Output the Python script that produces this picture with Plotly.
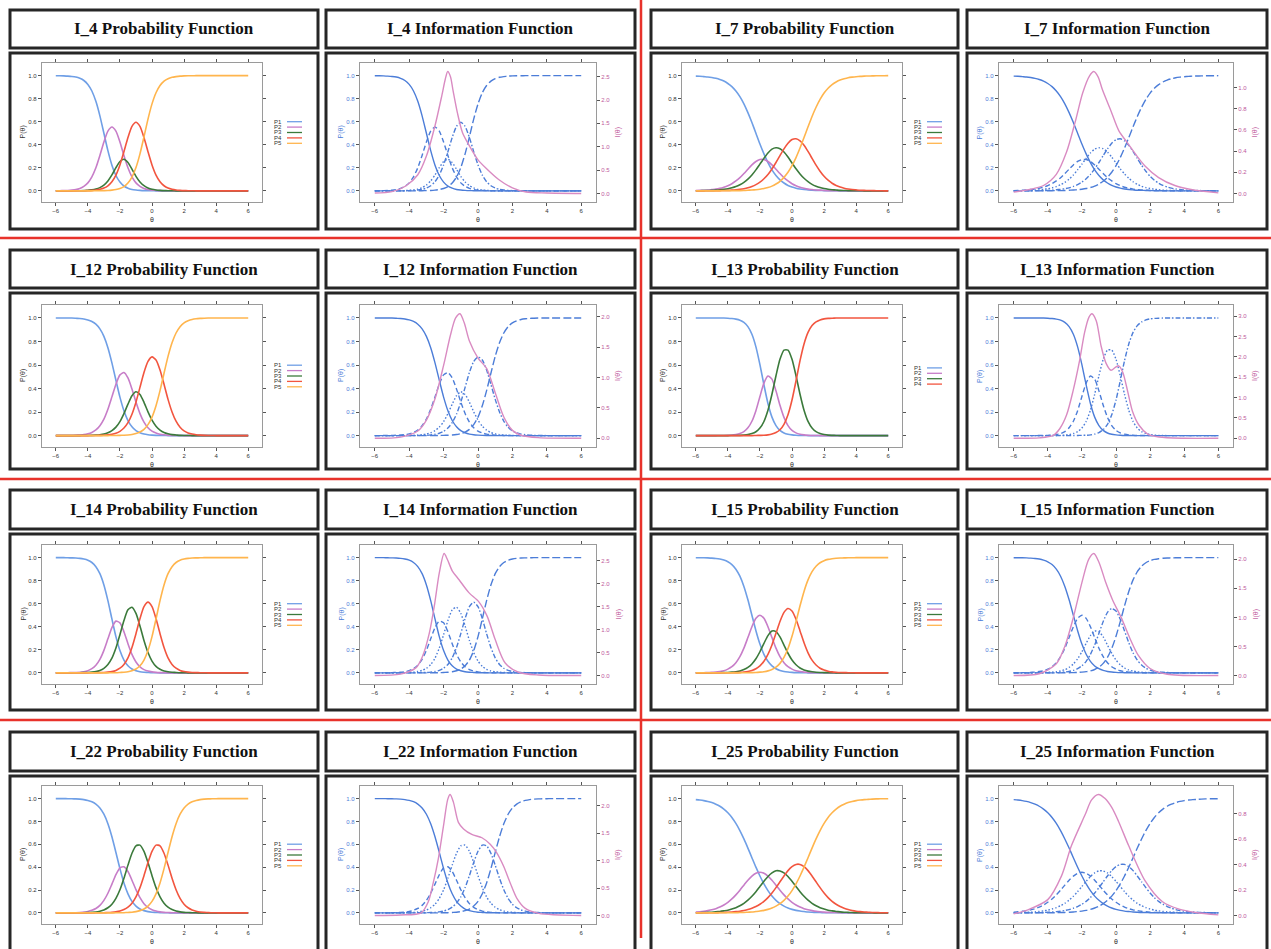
import plotly.graph_objects as go

# ---------------- data ----------------
theta = [-6.0,-5.75,-5.5,-5.25,-5.0,-4.75,-4.5,-4.25,-4.0,-3.75,-3.5,-3.25,-3.0,-2.75,-2.5,-2.25,
         -2.0,-1.75,-1.5,-1.25,-1.0,-0.75,-0.5,-0.25,0.0,0.25,0.5,0.75,1.0,1.25,1.5,1.75,2.0,
         2.25,2.5,2.75,3.0,3.25,3.5,3.75,4.0,4.25,4.5,4.75,5.0,5.25,5.5,5.75,6.0]

i4_p1 = [0.999,0.999,0.998,0.996,0.993,0.988,0.977,0.958,0.924,0.867,0.777,0.651,0.500,0.349,0.223,0.133,0.076,0.042,0.023,0.012,0.007,0.004,0.002,0.001,0.001,
         0,0,0,0,0,0,0,0,0,0,0,0,0,0,0,0,0,0,0,0,0,0,0,0]
i4_p2 = [0.001,0.001,0.002,0.003,0.006,0.011,0.021,0.039,0.069,0.121,0.200,0.307,0.424,0.518,0.554,0.518,0.424,0.307,0.200,0.121,0.069,0.039,0.021,0.011,0.006,0.004,0.002,0.001,0.001,
         0,0,0,0,0,0,0,0,0,0,0,0,0,0,0,0,0,0,0,0]
i4_p3 = [0,0,0,0,0,0.001,0.001,0.002,0.005,0.008,0.015,0.028,0.050,0.086,0.138,0.201,0.255,0.274,0.246,0.188,0.126,0.077,0.045,0.025,0.013,0.007,0.004,0.002,0.001,0.001,
         0,0,0,0,0,0,0,0,0,0,0,0,0,0,0,0,0,0,0]
i4_p4 = [0,0,0,0,0,0,0.001,0.001,0.002,0.004,0.007,0.013,0.024,0.044,0.079,0.137,0.225,0.340,0.463,0.560,0.596,0.560,0.463,0.340,0.225,0.137,0.079,0.044,0.024,0.013,0.007,0.004,0.002,0.001,0.001,
         0,0,0,0,0,0,0,0,0,0,0,0,0,0]
i4_p5 = [0,0,0,0,0,0,0,0,0,0,0.001,0.001,0.002,0.003,0.006,0.011,0.020,0.037,0.068,0.119,0.202,0.321,0.469,0.623,0.755,0.852,0.915,0.953,0.974,0.986,0.992,0.996,0.998,0.999,0.999,
         1,1,1,1,1,1,1,1,1,1,1,1,1,1]
i4_info_theta = [-6,-5,-4.2,-3.5,-3.0,-2.5,-2.1,-1.9,-1.76,-1.6,-1.45,-1.2,-0.9,-0.5,0,0.5,1.2,2.0,2.8,4,6]
i4_info = [0.01,0.04,0.16,0.40,0.80,1.45,2.10,2.45,2.61,2.50,2.20,1.73,1.30,1.02,0.72,0.53,0.30,0.12,0.03,0.01,0.0]
i4_info_ticks = [0.0, 0.5, 1.0, 1.5, 2.0, 2.5]

i7_p1 = [0.996,0.995,0.992,0.989,0.984,0.977,0.967,0.953,0.932,0.905,0.867,0.818,0.755,0.679,0.593,0.500,0.407,0.321,0.245,0.182,0.133,0.095,0.068,0.047,0.033,
         0.023,0.016,0.011,0.008,0.005,0.004,0.003,0.002,0.001,0.001,0.001,0,0,0,0,0,0,0,0,0,0,0,0,0]
i7_p2 = [0.002,0.004,0.005,0.007,0.011,0.015,0.022,0.032,0.045,0.062,0.086,0.114,0.150,0.188,0.225,0.255,0.272,0.272,0.255,0.225,0.188,0.150,0.114,0.086,0.062,
         0.045,0.031,0.022,0.015,0.011,0.007,0.006,0.003,0.002,0.002,0.001,0.001,0.001,0,0,0,0,0,0,0,0,0,0,0]
i7_p3 = [0.001,0.001,0.002,0.003,0.004,0.006,0.009,0.013,0.018,0.026,0.037,0.053,0.074,0.102,0.138,0.182,0.232,0.282,0.329,0.362,0.374,0.366,0.337,0.293,0.242,
         0.191,0.147,0.109,0.079,0.056,0.040,0.028,0.020,0.014,0.010,0.007,0.004,0.003,0.002,0.001,0.001,0.001,0,0,0,0,0,0,0]
i7_p4 = [0,0,0,0.001,0.001,0.001,0.002,0.003,0.004,0.006,0.009,0.013,0.018,0.026,0.038,0.054,0.075,0.105,0.142,0.190,0.246,0.306,0.364,0.413,0.445,
         0.452,0.434,0.396,0.342,0.282,0.223,0.170,0.126,0.092,0.066,0.047,0.033,0.023,0.016,0.011,0.008,0.005,0.004,0.003,0.002,0.001,0.001,0,0]
i7_p5 = [0,0,0,0,0,0,0,0.001,0.001,0.001,0.002,0.002,0.003,0.005,0.007,0.010,0.014,0.020,0.029,0.041,0.059,0.083,0.117,0.161,0.218,
         0.289,0.372,0.463,0.556,0.646,0.726,0.794,0.849,0.891,0.922,0.945,0.962,0.973,0.982,0.987,0.991,0.994,0.996,0.997,0.998,0.999,0.999,0.999,1.0]
i7_info_theta = [-6,-5,-4.25,-3.5,-2.9,-2.4,-1.95,-1.55,-1.3,-1.05,-0.8,-0.3,0.17,0.66,1.15,1.7,2.5,3.45,4.4,6]
i7_info = [0.013,0.04,0.075,0.18,0.39,0.67,0.95,1.11,1.15,1.10,0.98,0.78,0.59,0.48,0.37,0.26,0.15,0.075,0.038,0.006]
i7_info_ticks = [0.0, 0.2, 0.4, 0.6, 0.8, 1.0]

i12_p1 = [1.0,1.0,0.999,0.999,0.999,0.997,0.995,0.991,0.983,0.970,0.947,0.907,0.843,0.747,0.618,0.470,0.327,0.211,0.128,0.075,0.042,0.024,0.013,0.007,0.004,
          0.002,0.001,0.001,0,0,0,0,0,0,0,0,0,0,0,0,0,0,0,0,0,0,0,0,0]
i12_p2 = [0,0,0.001,0.001,0.001,0.003,0.005,0.008,0.015,0.027,0.048,0.084,0.140,0.224,0.329,0.437,0.516,0.536,0.490,0.396,0.285,0.187,0.115,0.067,0.038,
          0.022,0.012,0.007,0.004,0.002,0.001,0.001,0,0,0,0,0,0,0,0,0,0,0,0,0,0,0,0,0]
i12_p3 = [0,0,0,0,0,0,0,0.001,0.001,0.002,0.004,0.007,0.013,0.024,0.042,0.072,0.119,0.187,0.267,0.339,0.372,0.349,0.283,0.202,0.132,
          0.080,0.047,0.026,0.015,0.008,0.005,0.002,0.001,0.001,0,0,0,0,0,0,0,0,0,0,0,0,0,0,0]
i12_p4 = [0,0,0,0,0,0,0,0,0,0.001,0.001,0.002,0.003,0.006,0.011,0.020,0.036,0.064,0.110,0.182,0.284,0.410,0.536,0.630,0.669,
          0.643,0.558,0.436,0.308,0.201,0.122,0.071,0.040,0.023,0.013,0.007,0.004,0.002,0.001,0.001,0,0,0,0,0,0,0,0,0]
i12_p5 = [0,0,0,0,0,0,0,0,0,0,0,0,0,0,0.001,0.001,0.002,0.003,0.005,0.009,0.017,0.030,0.053,0.093,0.157,
          0.254,0.382,0.530,0.673,0.789,0.872,0.926,0.958,0.976,0.987,0.993,0.996,0.998,0.999,0.999,1,1,1,1,1,1,1,1,1]
i12_info_theta = [-6,-4.5,-3.5,-3,-2.5,-2,-1.6,-1.3,-1.05,-0.8,-0.5,0,0.5,1,1.5,2,2.5,3.5,6]
i12_info = [0,0.02,0.12,0.3,0.65,1.2,1.7,1.98,2.05,1.9,1.6,1.32,1.15,0.75,0.35,0.13,0.05,0.01,0]
i12_info_ticks = [0.0, 0.5, 1.0, 1.5, 2.0]

i13_p1 = [1,1,1,1,1,1,0.999,0.999,0.998,0.995,0.990,0.981,0.962,0.926,0.861,0.754,0.603,0.431,0.273,0.157,0.085,0.044,0.022,0.011,0.006,
          0.003,0.001,0.001,0,0,0,0,0,0,0,0,0,0,0,0,0,0,0,0,0,0,0,0,0]
i13_p2 = [0,0,0,0,0,0,0.001,0.001,0.002,0.004,0.009,0.017,0.034,0.066,0.122,0.212,0.332,0.446,0.506,0.480,0.380,0.258,0.155,0.085,0.044,
          0.023,0.012,0.006,0.003,0.001,0.001,0,0,0,0,0,0,0,0,0,0,0,0,0,0,0,0,0,0]
i13_p3 = [0,0,0,0,0,0,0,0,0,0.001,0.001,0.002,0.004,0.008,0.017,0.033,0.064,0.120,0.215,0.351,0.509,0.648,0.727,0.727,0.649,
          0.509,0.351,0.215,0.120,0.064,0.033,0.017,0.009,0.004,0.002,0.001,0,0,0,0,0,0,0,0,0,0,0,0,0]
i13_p4 = [0,0,0,0,0,0,0,0,0,0,0,0,0,0,0,0.001,0.002,0.003,0.006,0.013,0.026,0.050,0.096,0.177,0.302,
          0.465,0.637,0.779,0.877,0.935,0.966,0.983,0.992,0.996,0.998,0.999,1,1,1,1,1,1,1,1,1,1,1,1,1]
i13_info_theta = [-6,-4.5,-3.68,-3.29,-2.9,-2.52,-2.13,-1.84,-1.59,-1.41,-1.16,-0.87,-0.58,-0.29,-0.04,0.15,0.39,0.68,0.97,1.35,1.84,2.52,4,6]
i13_info = [0,0.01,0.07,0.24,0.57,1.16,1.92,2.6,2.97,3.06,2.89,2.26,1.84,1.67,1.74,1.78,1.63,1.16,0.66,0.32,0.11,0.03,0,0]
i13_info_ticks = [0.0, 0.5, 1.0, 1.5, 2.0, 2.5, 3.0]

i14_p1 = [1.0,1.0,1.0,0.999,0.998,0.997,0.994,0.988,0.978,0.958,0.922,0.861,0.763,0.627,0.468,0.314,0.193,0.111,0.061,0.033,0.018,0.009,0.005,0.003,0.001,
          0.001,0,0,0,0,0,0,0,0,0,0,0,0,0,0,0,0,0,0,0,0,0,0,0]
i14_p2 = [0,0,0,0.001,0.002,0.003,0.005,0.010,0.019,0.036,0.066,0.117,0.195,0.295,0.393,0.449,0.434,0.357,0.253,0.160,0.094,0.052,0.028,0.015,0.008,
          0.004,0.002,0.001,0,0,0,0,0,0,0,0,0,0,0,0,0,0,0,0,0,0,0,0,0]
i14_p3 = [0,0,0,0,0,0.001,0.001,0.002,0.003,0.006,0.011,0.021,0.039,0.072,0.127,0.215,0.331,0.454,0.547,0.570,0.516,0.407,0.281,0.176,0.102,
          0.056,0.031,0.016,0.009,0.005,0.003,0.001,0.001,0,0,0,0,0,0,0,0,0,0,0,0,0,0,0,0]
i14_p4 = [0,0,0,0,0,0,0,0,0,0.001,0.001,0.002,0.003,0.006,0.011,0.021,0.040,0.073,0.130,0.220,0.340,0.471,0.575,0.614,0.575,
          0.471,0.340,0.220,0.130,0.073,0.040,0.021,0.011,0.006,0.003,0.002,0.001,0.001,0,0,0,0,0,0,0,0,0,0,0]
i14_p5 = [0,0,0,0,0,0,0,0,0,0,0,0,0,0,0.001,0.001,0.003,0.005,0.009,0.018,0.033,0.061,0.111,0.193,0.314,
          0.468,0.627,0.763,0.861,0.922,0.958,0.978,0.988,0.994,0.997,0.998,0.999,1,1,1,1,1,1,1,1,1,1,1,1]
i14_info_theta = [-6,-4.5,-3.6,-3.22,-2.83,-2.54,-2.25,-1.97,-1.78,-1.49,-1.1,-0.53,0.05,0.53,1.0,1.58,2.35,3.5,6]
i14_info = [0,0.03,0.17,0.42,0.92,1.51,2.23,2.65,2.52,2.27,2.08,1.8,1.6,1.29,0.78,0.27,0.07,0.01,0]
i14_info_ticks = [0.0, 0.5, 1.0, 1.5, 2.0, 2.5]

i15_p1 = [0.999,0.999,0.999,0.998,0.996,0.993,0.988,0.979,0.964,0.940,0.900,0.839,0.750,0.634,0.500,0.366,0.250,0.161,0.100,0.060,0.036,0.021,0.012,0.007,0.004,
          0.002,0.001,0.001,0,0,0,0,0,0,0,0,0,0,0,0,0,0,0,0,0,0,0,0,0]
i15_p2 = [0.001,0.001,0.001,0.002,0.004,0.006,0.011,0.018,0.032,0.053,0.088,0.140,0.214,0.306,0.400,0.473,0.500,0.473,0.400,0.306,0.214,0.140,0.088,0.053,0.032,
          0.018,0.011,0.006,0.004,0.002,0.001,0.001,0.001,0,0,0,0,0,0,0,0,0,0,0,0,0,0,0,0]
i15_p3 = [0,0,0,0,0,0.001,0.001,0.002,0.003,0.006,0.010,0.016,0.028,0.047,0.077,0.122,0.183,0.256,0.323,0.363,0.358,0.312,0.241,0.170,0.111,
          0.070,0.042,0.025,0.015,0.009,0.005,0.003,0.002,0.001,0.001,0,0,0,0,0,0,0,0,0,0,0,0,0,0]
i15_p4 = [0,0,0,0,0,0,0,0.001,0.001,0.001,0.002,0.004,0.007,0.012,0.021,0.036,0.061,0.100,0.160,0.242,0.343,0.446,0.525,0.559,0.537,
          0.465,0.364,0.261,0.174,0.110,0.068,0.040,0.024,0.014,0.008,0.005,0.003,0.002,0.001,0.001,0,0,0,0,0,0,0,0,0]
i15_p5 = [0,0,0,0,0,0,0,0,0,0,0,0,0.001,0.001,0.002,0.003,0.006,0.010,0.017,0.029,0.049,0.082,0.134,0.211,0.317,
          0.445,0.582,0.707,0.807,0.879,0.926,0.956,0.974,0.985,0.991,0.995,0.997,0.998,0.999,0.999,1,1,1,1,1,1,1,1,1]
i15_info_theta = [-6,-4.5,-3.5,-3,-2.5,-2,-1.6,-1.3,-1.0,-0.6,-0.2,0.3,0.8,1.3,2,3,6]
i15_info = [0,0.03,0.2,0.5,1.0,1.6,2.0,2.1,1.95,1.6,1.3,1.0,0.65,0.35,0.12,0.02,0]
i15_info_ticks = [0.0, 0.5, 1.0, 1.5, 2.0]

i22_p1 = [1.0,1.0,1.0,0.999,0.998,0.997,0.995,0.991,0.984,0.973,0.952,0.918,0.863,0.780,0.666,0.529,0.387,0.262,0.167,0.101,0.060,0.034,0.020,0.011,0.006,
          0.004,0.002,0.001,0.001,0,0,0,0,0,0,0,0,0,0,0,0,0,0,0,0,0,0,0,0]
i22_p2 = [0,0,0,0.001,0.001,0.002,0.004,0.007,0.013,0.023,0.039,0.066,0.110,0.172,0.252,0.334,0.394,0.404,0.362,0.286,0.203,0.133,0.081,0.048,0.028,
          0.016,0.009,0.005,0.003,0.002,0.001,0.001,0,0,0,0,0,0,0,0,0,0,0,0,0,0,0,0,0]
i22_p3 = [0,0,0,0,0,0.001,0.001,0.002,0.003,0.005,0.008,0.015,0.026,0.045,0.076,0.127,0.202,0.303,0.418,0.522,0.587,0.593,0.539,0.441,0.326,
          0.221,0.140,0.085,0.050,0.029,0.016,0.009,0.005,0.003,0.002,0.001,0,0,0,0,0,0,0,0,0,0,0,0,0]
i22_p4 = [0,0,0,0,0,0,0,0,0,0,0.001,0.001,0.002,0.003,0.005,0.009,0.016,0.029,0.050,0.085,0.140,0.221,0.326,0.441,0.539,
          0.593,0.587,0.522,0.418,0.303,0.203,0.127,0.076,0.045,0.026,0.015,0.008,0.005,0.003,0.001,0.001,0,0,0,0,0,0,0,0]
i22_p5 = [0,0,0,0,0,0,0,0,0,0,0,0,0,0,0,0.001,0.001,0.002,0.004,0.006,0.011,0.020,0.034,0.060,0.101,
          0.167,0.262,0.387,0.529,0.666,0.780,0.863,0.918,0.952,0.973,0.984,0.991,0.995,0.997,0.998,0.999,1,1,1,1,1,1,1,1]
i22_info_theta = [-6,-4.5,-3.3,-2.89,-2.6,-2.3,-2.0,-1.76,-1.62,-1.43,-1.14,-0.84,-0.36,0.23,0.71,1.1,1.49,1.88,2.27,2.75,3.53,6]
i22_info = [0,0.01,0.05,0.25,0.6,1.05,1.65,2.12,2.21,2.07,1.70,1.58,1.48,1.42,1.30,1.14,0.9,0.59,0.31,0.13,0.04,0]
i22_info_ticks = [0.0, 0.5, 1.0, 1.5, 2.0]

i25_p1 = [0.991,0.987,0.982,0.975,0.965,0.951,0.933,0.908,0.876,0.835,0.783,0.720,0.647,0.567,0.483,0.400,0.323,0.254,0.195,0.147,0.110,0.081,0.059,0.043,0.031,
          0.022,0.016,0.012,0.008,0.006,0.004,0.003,0.002,0.002,0.001,0.001,0.001,0,0,0,0,0,0,0,0,0,0,0,0]
i25_p2 = [0.007,0.010,0.014,0.020,0.027,0.037,0.051,0.069,0.093,0.122,0.158,0.199,0.243,0.286,0.322,0.347,0.355,0.347,0.322,0.286,0.243,0.199,0.158,0.122,0.093,
          0.069,0.051,0.037,0.027,0.020,0.014,0.010,0.007,0.005,0.004,0.003,0.002,0.001,0.001,0.001,0,0,0,0,0,0,0,0,0]
i25_p3 = [0.002,0.002,0.003,0.005,0.006,0.009,0.013,0.018,0.024,0.034,0.046,0.063,0.084,0.112,0.146,0.186,0.231,0.276,0.318,0.350,0.368,0.367,0.350,0.318,0.276,
          0.231,0.186,0.146,0.112,0.084,0.063,0.046,0.034,0.024,0.018,0.013,0.009,0.006,0.005,0.003,0.002,0.002,0.001,0.001,0.001,0,0,0,0]
i25_p4 = [0,0.001,0.001,0.001,0.002,0.002,0.003,0.004,0.006,0.008,0.011,0.015,0.021,0.029,0.041,0.056,0.076,0.101,0.134,0.174,0.221,0.272,0.323,0.370,0.405,
          0.424,0.424,0.405,0.370,0.323,0.272,0.221,0.174,0.134,0.101,0.076,0.056,0.041,0.029,0.021,0.015,0.011,0.008,0.006,0.004,0.003,0.002,0.002,0.001]
i25_p5 = [0,0,0,0,0,0,0.001,0.001,0.001,0.002,0.002,0.003,0.004,0.006,0.008,0.012,0.016,0.022,0.031,0.043,0.059,0.081,0.110,0.147,0.195,
          0.254,0.323,0.400,0.483,0.567,0.647,0.720,0.783,0.835,0.876,0.908,0.933,0.951,0.965,0.975,0.982,0.987,0.991,0.993,0.995,0.997,0.998,0.998,0.999]
i25_info_theta = [-6,-5.17,-4.0,-3.2,-2.61,-1.82,-1.43,-1.03,-0.64,-0.25,0.15,0.74,1.72,2.71,3.7,4.68,6]
i25_info = [0.013,0.045,0.125,0.31,0.55,0.79,0.91,0.952,0.92,0.85,0.74,0.55,0.27,0.11,0.05,0.024,0.005]
i25_info_ticks = [0.0, 0.2, 0.4, 0.6, 0.8]

x_ticks = [-6, -4, -2, 0, 2, 4, 6]
p_ticks = [0.0, 0.2, 0.4, 0.6, 0.8, 1.0]
category_labels = ["P1", "P2", "P3", "P4", "P5"]

items = {
    "I_4": ([i4_p1, i4_p2, i4_p3, i4_p4, i4_p5], i4_info_theta, i4_info, i4_info_ticks),
    "I_7": ([i7_p1, i7_p2, i7_p3, i7_p4, i7_p5], i7_info_theta, i7_info, i7_info_ticks),
    "I_12": ([i12_p1, i12_p2, i12_p3, i12_p4, i12_p5], i12_info_theta, i12_info, i12_info_ticks),
    "I_13": ([i13_p1, i13_p2, i13_p3, i13_p4], i13_info_theta, i13_info, i13_info_ticks),
    "I_14": ([i14_p1, i14_p2, i14_p3, i14_p4, i14_p5], i14_info_theta, i14_info, i14_info_ticks),
    "I_15": ([i15_p1, i15_p2, i15_p3, i15_p4, i15_p5], i15_info_theta, i15_info, i15_info_ticks),
    "I_22": ([i22_p1, i22_p2, i22_p3, i22_p4, i22_p5], i22_info_theta, i22_info, i22_info_ticks),
    "I_25": ([i25_p1, i25_p2, i25_p3, i25_p4, i25_p5], i25_info_theta, i25_info, i25_info_ticks),
}
grid_items = [("I_4", "I_7"), ("I_12", "I_13"), ("I_14", "I_15"), ("I_22", "I_25")]

for _nm, (_ps, _ix, _iy, _) in items.items():
    for _k, _p in enumerate(_ps):
        assert len(_p) == len(theta), (_nm, _k, len(_p))
    assert len(_ix) == len(_iy), _nm

# ---------------- layout geometry (pixels) ----------------
W, H = 1271, 949
def X(p): return p / W
def Y(p): return 1 - p / H

col_box = [(10, 318), (326, 635), (651, 958), (967, 1267)]
row_title = [(10, 48), (250, 288), (490, 529), (732, 771)]
row_plot = [(53, 229), (293, 469), (534, 710), (776, 962)]
row_frame = [(63, 202), (305, 447), (545, 684), (786, 924)]
col_frame = [(42, 262), (360, 596), (682, 902), (999, 1233)]

P_COLORS = ["#6f9fe6", "#c77dc8", "#3b7a3b", "#f2553f", "#ffb54d"]
INFO_BLUE = "#4c7dd8"
INFO_PINK = "#d98bc2"
DASHES = ["solid", "5px,3px", "1.5px,2px", "5px,2px,1.5px,2px", "8px,3px"]
FRAME = "#9a9a9a"
TXT = "#333333"
SANS = "Liberation Sans, Arial, sans-serif"

fig = go.Figure()
layout = {}
shapes = []
annotations = []

def axn(kind, n):
    return f"{kind}axis" if n == 1 else f"{kind}axis{n}"
def axr(kind, n):
    return kind if n == 1 else f"{kind}{n}"

def note(text, xp, yp, size, color, family=SANS, angle=0, xanchor="center"):
    annotations.append(dict(text=text, x=X(xp), y=Y(yp), xref="paper", yref="paper",
                            xanchor=xanchor, yanchor="middle", showarrow=False, textangle=angle,
                            font=dict(size=size, color=color, family=family)))

extra_y = 17
for r, pair in enumerate(grid_items):
    for half, name in enumerate(pair):
        probs, ith, iv, iticks = items[name]
        for kind in ("prob", "info"):
            c = half * 2 + (0 if kind == "prob" else 1)
            n = r * 4 + c + 1
            fl, fr = col_frame[c]
            ft, fb = row_frame[r]
            bl, br = col_box[c]
            xr, yr = axr("x", n), axr("y", n)
            tt, tb = row_title[r]
            pt, pb = row_plot[r]
            shapes.append(dict(type="rect", xref="paper", yref="paper", x0=X(bl), x1=X(br),
                               y0=Y(tb), y1=Y(tt), line=dict(color="#262626", width=3)))
            shapes.append(dict(type="rect", xref="paper", yref="paper", x0=X(bl), x1=X(br),
                               y0=Y(pb), y1=Y(pt), line=dict(color="#262626", width=3)))
            ttl = f"{name} Probability Function" if kind == "prob" else f"{name} Information Function"
            note(f"<b>{ttl}</b>", (bl + br) / 2, (tt + tb) / 2, 17, "#111",
                 family="Liberation Serif, Times New Roman, serif")
            tickcol = TXT if kind == "prob" else INFO_BLUE
            layout[axn("x", n)] = dict(domain=[X(fl), X(fr)], anchor=yr, range=[-6.86, 6.86],
                                       tickvals=x_ticks, ticks="outside", ticklen=3, tickcolor="#555",
                                       showline=True, linecolor=FRAME, linewidth=1.3, mirror="ticks",
                                       showgrid=False, zeroline=False, fixedrange=True,
                                       tickfont=dict(size=6, color=TXT, family=SANS))
            layout[axn("y", n)] = dict(domain=[Y(fb), Y(ft)], anchor=xr, range=[-0.097, 1.11],
                                       tickvals=p_ticks, ticktext=[f"{v:.1f}" for v in p_ticks],
                                       ticks="outside", ticklen=3, tickcolor="#555",
                                       showline=True, linecolor=FRAME, linewidth=1.3,
                                       mirror="ticks" if kind == "prob" else False,
                                       showgrid=False, zeroline=False, fixedrange=True,
                                       tickfont=dict(size=6, color=tickcol, family=SANS))
            note("θ", (fl + fr) / 2, fb + 17, 7, TXT)
            note("P(θ)", fl - 19, (ft + fb) / 2, 7, TXT if kind == "prob" else INFO_BLUE, angle=-90)
            if kind == "prob":
                for k, pv in enumerate(probs):
                    fig.add_trace(go.Scatter(x=theta, y=pv, mode="lines", xaxis=xr, yaxis=yr,
                                             line=dict(color=P_COLORS[k], width=1.6, shape="spline", smoothing=0.6),
                                             showlegend=False, hoverinfo="skip"))
                m = len(probs)
                mid = (ft + fb) / 2
                for k in range(m):
                    yy = mid + (k - (m - 1) / 2) * 5.4
                    note(category_labels[k], fr + 10, yy, 6, TXT, xanchor="left")
                    shapes.append(dict(type="line", xref="paper", yref="paper", x0=X(fr + 25), x1=X(fr + 40),
                                       y0=Y(yy), y1=Y(yy), line=dict(color=P_COLORS[k], width=1.3)))
            else:
                y2 = extra_y
                extra_y += 1
                for k, pv in enumerate(probs):
                    fig.add_trace(go.Scatter(x=theta, y=pv, mode="lines", xaxis=xr, yaxis=yr,
                                             line=dict(color=INFO_BLUE, width=1.4, dash=DASHES[k],
                                                       shape="spline", smoothing=0.6),
                                             showlegend=False, hoverinfo="skip"))
                mx = max(iv)
                fig.add_trace(go.Scatter(x=ith, y=iv, mode="lines", xaxis=xr, yaxis=axr("y", y2),
                                         line=dict(color=INFO_PINK, width=1.4, shape="spline", smoothing=0.8),
                                         showlegend=False, hoverinfo="skip"))
                layout[axn("y", y2)] = dict(overlaying=yr, side="right", anchor=xr,
                                            range=[-0.07 * mx, 1.07 * mx], tickvals=iticks,
                                            ticktext=[f"{v:.1f}" for v in iticks],
                                            ticks="outside", ticklen=3, tickcolor="#555",
                                            showline=True, linecolor=FRAME, linewidth=1.3,
                                            showgrid=False, zeroline=False, fixedrange=True,
                                            tickfont=dict(size=6, color="#c0589c", family=SANS))
                note("I(θ)", fr + 22, (ft + fb) / 2, 7, "#c0589c", angle=-90)

# red separators
RED = "#e8322b"
shapes.append(dict(type="line", xref="paper", yref="paper", x0=X(641), x1=X(641), y0=Y(938), y1=Y(0),
                   line=dict(color=RED, width=2.5)))
for yy in (238, 479, 720):
    shapes.append(dict(type="line", xref="paper", yref="paper", x0=0, x1=1, y0=Y(yy), y1=Y(yy),
                       line=dict(color=RED, width=2.5)))

fig.update_layout(width=W, height=H, margin=dict(l=0, r=0, t=0, b=0), plot_bgcolor="white",
                  paper_bgcolor="white", showlegend=False, shapes=shapes, annotations=annotations, **layout)
fig.write_html("out.html", config={"displayModeBar": False},
               post_script="document.body.style.margin='0';document.body.style.overflow='hidden';")
